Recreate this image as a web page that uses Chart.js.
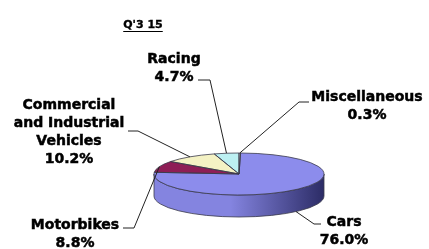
<!DOCTYPE html>
<html>
<head>
<meta charset="utf-8">
<script src="https://cdn.jsdelivr.net/npm/chart.js@4.4.0/dist/chart.umd.min.js"></script>
<style>
  html, body { margin: 0; padding: 0; background: #fff; }
  #wrap { position: relative; width: 429px; height: 249px; }
</style>
</head>
<body>
<div id="wrap"><canvas id="pie" width="429" height="249"></canvas></div>
<script>
// ---------- Dades ----------
const chartTitle = "Q'3 15";
const categories = ['Miscellaneous', 'Cars', 'Motorbikes', ['Commercial', 'and Industrial', 'Vehicles'], 'Racing'];
const shares = [0.3, 76.0, 8.8, 10.2, 4.7];

// ---------- Estil ----------
const topColors = ['#e4e4ee', '#8c8cec', '#8e1e56', '#f4f2c4', '#bcf0f2'];
const wallColors = [['#c8c8d4', '#8a8a96'], ['#8484e0', '#2c2c66'], ['#7a1848', '#40082a'], ['#d8d6a8', '#9a9870'], ['#a0d4d6', '#609698']];
const RX = 85, RY = 21, DEPTH = 22;
const FONT = 'bold 14px "DejaVu Sans", Verdana, sans-serif';
const LINE_H = 18;

// posicio del text i punts de la linia guia (layout)
const labelLayout = [
  { x: 367, y: 97,  guide: [[299, 102], [309, 102]] },
  { x: 344, y: 222, guide: [[314, 224], [321, 224]] },
  { x: 75,  y: 225, guide: [[134, 228], [123, 228]] },
  { x: 69,  y: 105, guide: [[138, 131], [128, 131]] },
  { x: 174, y: 59,  guide: [[210, 80], [198, 80]] }
];

function ellipsePath(ctx, arc, fn) {
  const r = arc.outerRadius;
  ctx.save();
  ctx.translate(arc.x, arc.y);
  ctx.scale(RX / r, RY / r);
  fn(r);
  ctx.restore();
}

function boldText(ctx, t, x, y) {
  ctx.fillText(t, x, y);
  ctx.strokeText(t, x, y);
}

const pie3d = {
  id: 'pie3d',
  beforeDatasetsDraw(chart) {
    const ctx = chart.ctx;
    const arcs = chart.getDatasetMeta(0).data;
    const cx = arcs[0].x;

    // paret frontal
    arcs.forEach((arc, i) => {
      [-1, 0, 1].forEach(k => {
        const a = Math.max(arc.startAngle, 2 * Math.PI * k);
        const b = Math.min(arc.endAngle, 2 * Math.PI * k + Math.PI);
        if (b <= a) return;
        ctx.beginPath();
        ellipsePath(ctx, arc, r => {
          ctx.arc(0, 0, r, a, b);
          ctx.arc(0, DEPTH * r / RY, r, b, a, true);
          ctx.closePath();
        });
        const g = ctx.createLinearGradient(cx - RX, 0, cx + RX, 0);
        g.addColorStop(0, wallColors[i][0]);
        g.addColorStop(0.45, wallColors[i][0]);
        g.addColorStop(1, wallColors[i][1]);
        ctx.fillStyle = g;
        ctx.fill();
        ctx.strokeStyle = '#3a3a4a';
        ctx.lineWidth = 0.8;
        ctx.stroke();
      });
    });

    // cara superior aplanada
    const arc = arcs[0];
    const r = arc.outerRadius;
    ctx.save();
    ctx.translate(arc.x, arc.y);
    ctx.scale(RX / r, RY / r);
    ctx.translate(-arc.x, -arc.y);
  },
  afterDatasetsDraw(chart) {
    const ctx = chart.ctx;
    ctx.restore();
    const arcs = chart.getDatasetMeta(0).data;

    // vores de les porcions
    arcs.forEach(arc => {
      ctx.beginPath();
      ellipsePath(ctx, arc, r => {
        ctx.moveTo(0, 0);
        ctx.arc(0, 0, r, arc.startAngle, arc.endAngle);
        ctx.closePath();
      });
      ctx.strokeStyle = '#3a3a4a';
      ctx.lineWidth = 0.8;
      ctx.stroke();
    });

    // etiquetes i linies guia
    ctx.save();
    ctx.font = FONT;
    ctx.fillStyle = '#000';
    ctx.textAlign = 'center';
    ctx.textBaseline = 'middle';
    arcs.forEach((arc, i) => {
      const m = (arc.startAngle + arc.endAngle) / 2;
      let px = arc.x + Math.cos(m) * RX;
      let py = arc.y + Math.sin(m) * RY;
      if (Math.sin(m) > 0.3) py += DEPTH;
      const lay = labelLayout[i];
      ctx.beginPath();
      ctx.moveTo(px, py);
      lay.guide.forEach(p => ctx.lineTo(p[0], p[1]));
      ctx.strokeStyle = '#222';
      ctx.lineWidth = 1;
      ctx.stroke();

      const name = chart.data.labels[i];
      const lines = (Array.isArray(name) ? name : [name]).concat(shares[i].toFixed(1) + '%');
      ctx.strokeStyle = '#000';
      ctx.lineWidth = 0.5;
      lines.forEach((t, j) => boldText(ctx, t, lay.x, lay.y + j * LINE_H));
    });

    // titol subratllat
    ctx.font = 'bold 11px "DejaVu Sans", Verdana, sans-serif';
    ctx.lineWidth = 0.4;
    boldText(ctx, chartTitle, 143, 25);
    const w = ctx.measureText(chartTitle).width;
    ctx.beginPath();
    ctx.moveTo(143 - w / 2, 31.5);
    ctx.lineTo(143 + w / 2, 31.5);
    ctx.strokeStyle = '#000';
    ctx.lineWidth = 1;
    ctx.stroke();
    ctx.restore();
  }
};

new Chart(document.getElementById('pie'), {
  type: 'pie',
  data: {
    labels: categories,
    datasets: [{
      data: shares,
      backgroundColor: topColors,
      borderWidth: 0
    }]
  },
  options: {
    responsive: false,
    animation: false,
    layout: { padding: { left: 189, right: 140, top: 124, bottom: 25 } },
    plugins: {
      legend: { display: false },
      tooltip: { enabled: false }
    }
  },
  plugins: [pie3d]
});
</script>
</body>
</html>
